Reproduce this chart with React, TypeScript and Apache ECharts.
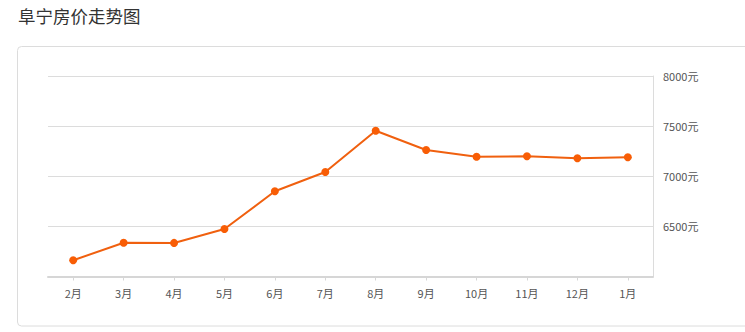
import React, { useEffect, useRef } from "react";
import * as echarts from "echarts";

const title = "阜宁房价走势图";
const months = ["2月", "3月", "4月", "5月", "6月", "7月", "8月", "9月", "10月", "11月", "12月", "1月"];
const prices = [6162, 6337, 6335, 6474, 6850, 7042, 7454, 7262, 7195, 7199, 7179, 7189];
const yTicks = { min: 6000, max: 8000, interval: 500 };

export default function App() {
  const ref = useRef<HTMLDivElement>(null);
  useEffect(() => {
    const chart = echarts.init(ref.current!, undefined, { renderer: "svg" });
    const font = "'Noto Sans CJK SC', 'Noto Sans', sans-serif";
    chart.setOption({
      animation: false,
      backgroundColor: "#fff",
      textStyle: { fontFamily: font },
      graphic: [
        {
          type: "text",
          left: 18,
          top: 7,
          style: { text: title, fontSize: 17.5, fill: "#333", fontFamily: font },
        },
        {
          type: "rect",
          shape: { x: 17.5, y: 46.5, width: 740, height: 279.5, r: 4 },
          style: { fill: "none", stroke: "#dcdcdc", lineWidth: 1 },
          z: -1,
        },
      ],
      grid: { left: 48, right: 92, top: 76, bottom: 55.5 },
      xAxis: {
        type: "category",
        data: months,
        boundaryGap: true,
        axisLine: { show: true, lineStyle: { color: "#d6d6d6", width: 2 } },
        axisTick: { show: true, alignWithLabel: true, length: 4, lineStyle: { color: "#d6d6d6" } },
        axisLabel: { color: "#555", fontSize: 11, margin: 11, fontFamily: font },
        splitLine: { show: false },
      },
      yAxis: {
        type: "value",
        position: "right",
        min: yTicks.min,
        max: yTicks.max,
        interval: yTicks.interval,
        axisLine: { show: true, lineStyle: { color: "#dcdcdc", width: 1 } },
        axisTick: { show: false },
        axisLabel: {
          color: "#555",
          fontSize: 11,
          margin: 10,
          showMinLabel: false,
          formatter: (v: number) => String(v) + "元",
          fontFamily: font,
        },
        splitLine: { show: true, lineStyle: { color: "#dcdcdc", width: 1 } },
      },
      series: [
        {
          type: "line",
          data: prices,
          symbol: "circle",
          symbolSize: 8,
          lineStyle: { color: "#f0600f", width: 2 },
          itemStyle: { color: "#f85d05" },
        },
      ],
    });
    return () => chart.dispose();
  }, []);
  return (
    <div
      ref={ref}
      style={{ position: "fixed", left: 0, top: 0, width: 745, height: 332 }}
    />
  );
}
